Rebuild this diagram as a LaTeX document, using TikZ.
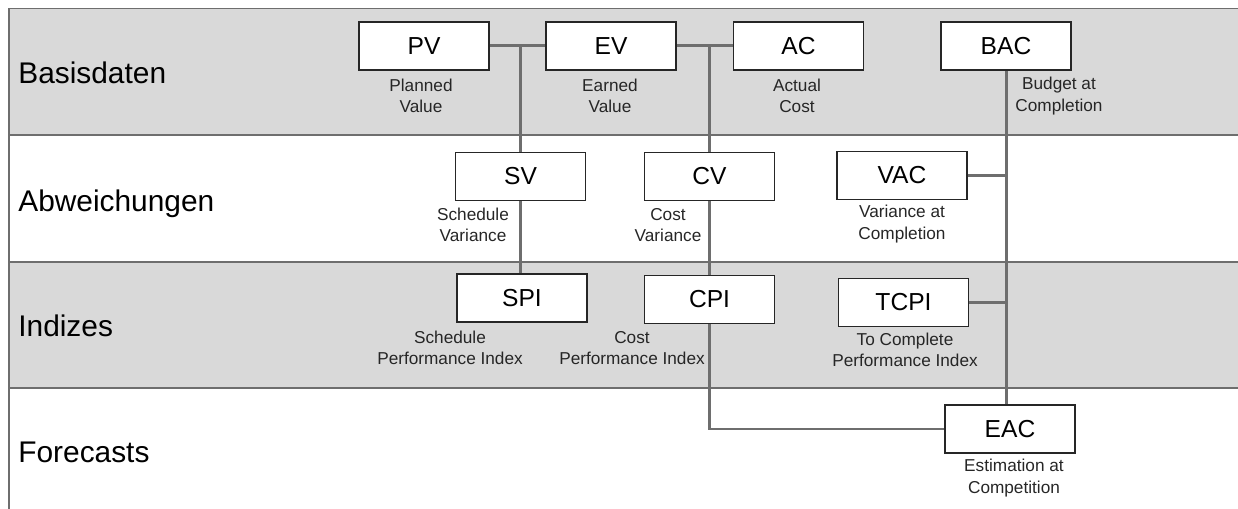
\documentclass[tikz,border=0pt]{standalone}
\usepackage{fontspec}
\setmainfont{Liberation Sans}
\definecolor{bandgray}{HTML}{D9D9D9}
\definecolor{rulegray}{HTML}{6E6E6E}
\definecolor{boxline}{HTML}{262626}
\begin{document}
\begin{tikzpicture}[x=0.02cm,y=-0.02cm,
  kpi/.style={draw=boxline,line width=1.1pt,fill=white,minimum width=2.6cm,minimum height=0.96cm,inner sep=0pt,font=\fontsize{14}{16}\selectfont},
  caption/.style={align=center,inner sep=0pt,font=\fontsize{9.8}{12.3}\selectfont,text=black!85},
  section/.style={anchor=base west,inner sep=0pt,font=\fontsize{17}{20}\selectfont},
  link/.style={draw=rulegray,line width=1.7pt},
  rule/.style={draw=rulegray,line width=1.1pt}]
\useasboundingbox (0,0) rectangle (1238,509);
% bands
\fill[bandgray] (9,8.5) rectangle (1238,135);
\fill[bandgray] (9,262) rectangle (1238,388);
\draw[rule] (9,8.5) -- (1238,8.5);
\draw[rule] (9,135) -- (1238,135);
\draw[rule] (9,262) -- (1238,262);
\draw[rule] (9,388) -- (1238,388);
\draw[rule] (9,8.5) -- (9,509);
\node[section] (basis) at (18,84) {Basisdaten};
\node[section] (abw) at (18,212) {Abweichungen};
\node[section] (ind) at (18,337) {Indizes};
\node[section] (fore) at (18,463) {Forecasts};
% kennzahlen
\node[kpi] (PV) at (424,46) {PV};
\node[kpi] (EV) at (611,46) {EV};
\node[kpi] (AC) at (798.5,46) {AC};
\node[kpi] (BAC) at (1006,46) {BAC};
\node[kpi] (SV) at (520.5,176.5) {SV};
\node[kpi] (CV) at (709.5,176.5) {CV};
\node[kpi] (VAC) at (902,175.5) {VAC};
\node[kpi] (SPI) at (522,298) {SPI};
\node[kpi] (CPI) at (709.5,299.5) {CPI};
\node[kpi] (TCPI) at (903.5,302.5) {TCPI};
\node[kpi] (EAC) at (1010,429) {EAC};
\node[caption] (pvtxt) at (421,96) {Planned\\Value};
\node[caption] (evtxt) at (610,96) {Earned\\Value};
\node[caption] (actxt) at (797,96) {Actual\\Cost};
\node[caption] (bactxt) at (1059,96) {Budget at\\Completion};
\node[caption] (svtxt) at (473,225) {Schedule\\Variance};
\node[caption] (cvtxt) at (668,225) {Cost\\Variance};
\node[caption] (vactxt) at (902,224) {Variance at\\Completion};
\node[caption] (spitxt) at (450,348) {Schedule\\Performance Index};
\node[caption] (cpitxt) at (632,348) {Cost\\Performance Index};
\node[caption] (tcpitxt) at (905,350) {To Complete\\Performance Index};
\node[caption] (eactxt) at (1014,478) {Estimation at\\Competition};
% verbindungen
\draw[link] (PV.east) -- (EV.west);
\draw[link] (EV.east) -- (AC.west);
\draw[link] (SV.north |- PV.east) -- (SV.north);
\draw[link] (CV.north |- EV.east) -- (CV.north);
\draw[link] (SV.south) -- (SV.south |- SPI.north);
\draw[link] (CV.south) -- (CV.south |- CPI.north);
\draw[link] (CPI.south) |- (EAC.west);
\draw[link] (BAC.south) -- (BAC.south |- EAC.north);
\draw[link] (VAC.east) -- (VAC.east -| BAC.south);
\draw[link] (TCPI.east) -- (TCPI.east -| BAC.south);
\end{tikzpicture}
\end{document}
